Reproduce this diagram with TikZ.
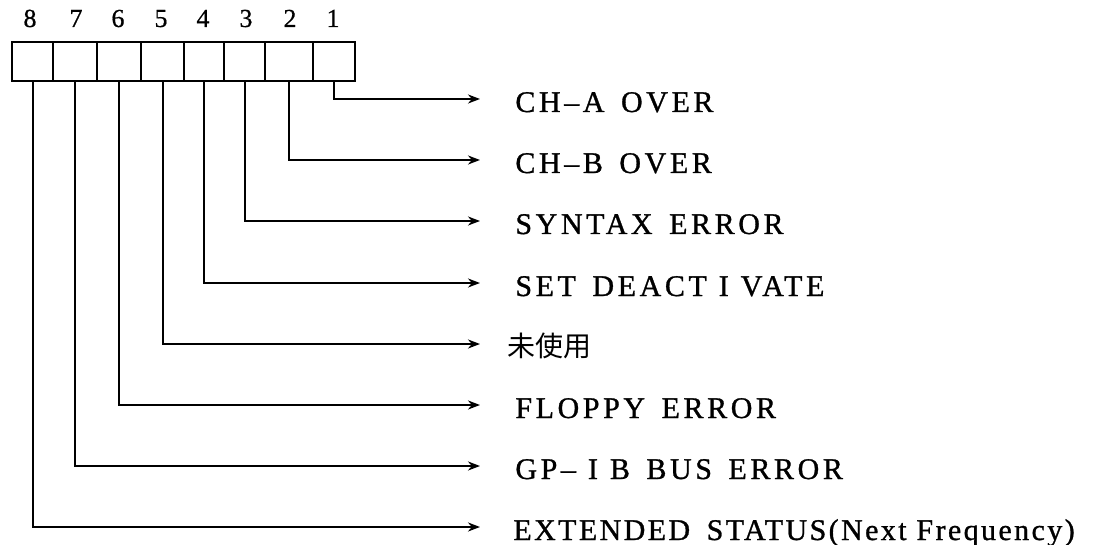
\documentclass[tikz,border=0pt]{standalone}
\usepackage{fontspec}
\setmainfont{Liberation Serif}
\newfontfamily\labfont[LetterSpace=12,FakeBold=1]{Liberation Serif}
\newfontfamily\labnarrow[LetterSpace=8,FakeBold=1]{Liberation Serif}
\newfontfamily\numfont[FakeBold=0.6]{Liberation Serif}
\newfontfamily\cjkfont{Noto Sans CJK JP}
\usetikzlibrary{arrows.meta}
\tikzset{
  cellbox/.style={draw,line width=1.2pt,minimum height=19.5pt,inner sep=0pt,anchor=north west},
  bitnum/.style={anchor=base,font=\fontsize{13}{15}\numfont,inner sep=0pt},
  lab/.style={anchor=base west,font=\fontsize{15}{18}\labfont,inner sep=0pt},
  narrowlab/.style={anchor=base west,font=\fontsize{15}{18}\labnarrow,inner sep=0pt},
  cjklab/.style={anchor=base west,font=\fontsize{14}{16}\cjkfont,inner sep=0pt},
  conn/.style={line width=1pt,-{Stealth[length=6pt,width=4.5pt]}}
}
\newcommand{\wsp}{\hspace{0.55em}}
\newcommand{\isp}{\hspace{0.4em}}
\begin{document}
\begin{tikzpicture}[x=0.5pt,y=-0.5pt]
\useasboundingbox (0,0) rectangle (1101,545);
% cells (bit 8 at left ... bit 1 at right)
\node[cellbox,minimum width=20.5pt] (c8) at (11,41) {};
\node[cellbox,minimum width=22pt] (c7) at (52,41) {};
\node[cellbox,minimum width=22pt] (c6) at (96,41) {};
\node[cellbox,minimum width=21.5pt] (c5) at (140,41) {};
\node[cellbox,minimum width=20pt] (c4) at (183,41) {};
\node[cellbox,minimum width=20.5pt] (c3) at (223,41) {};
\node[cellbox,minimum width=24pt] (c2) at (264,41) {};
\node[cellbox,minimum width=21pt] (c1) at (312,41) {};
% bit numbers
\node[bitnum] (n8) at (30,27) {8};
\node[bitnum] (n7) at (76,27) {7};
\node[bitnum] (n6) at (118,27) {6};
\node[bitnum] (n5) at (161,27) {5};
\node[bitnum] (n4) at (203,27) {4};
\node[bitnum] (n3) at (246,27) {3};
\node[bitnum] (n2) at (290,27) {2};
\node[bitnum] (n1) at (333,27) {1};
% arrow ends
\coordinate (e1) at (480,99);
\coordinate (e2) at (480,160);
\coordinate (e3) at (480,221);
\coordinate (e4) at (480,283);
\coordinate (e5) at (480,344);
\coordinate (e6) at (480,405);
\coordinate (e7) at (480,466);
\coordinate (e8) at (480,527);
% labels
\node[lab] (t1) at (515,112) {CH–A\wsp OVER};
\node[lab] (t2) at (515,173) {CH–B\wsp OVER};
\node[lab] (t3) at (515,234) {SYNTAX\wsp ERROR};
\node[lab] (t4) at (515,296) {SET\wsp DEACT\isp I\isp VATE};
\node[cjklab] (t5) at (507,356) {未使用};
\node[lab] (t6) at (515,418) {FLOPPY\wsp ERROR};
\node[lab] (t7) at (515,479) {GP–\isp I\isp B\wsp BUS\wsp ERROR};
\node[narrowlab] (t8) at (513,540) {EXTENDED\wsp STATUS(Next Frequency)};
% connectors
\foreach \i in {1,...,8}{
  \draw[conn] (c\i.south) |- (e\i);
}
\end{tikzpicture}
\end{document}
